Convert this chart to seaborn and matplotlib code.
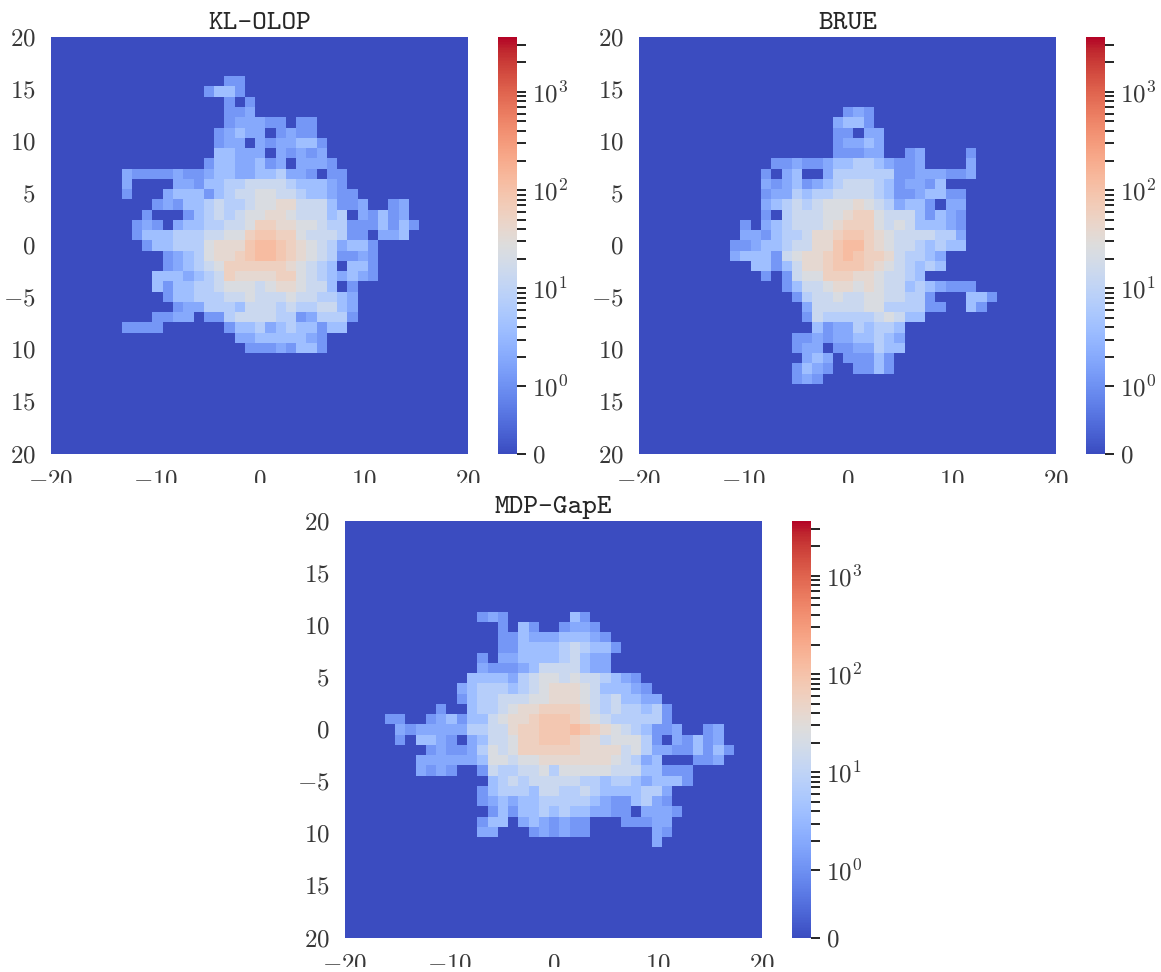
# plot.py

import numpy as np
import matplotlib
matplotlib.use("Agg")
import matplotlib.pyplot as plt
from matplotlib.colors import SymLogNorm
from matplotlib.transforms import Affine2D, Bbox
import seaborn as sns

WIDTH, HEIGHT = 1161, 972

TITLES = ["KL-OLOP", "BRUE", "MDP-GapE"]
X_TICK_LABELS = ["$-20$", "$-10$", "$0$", "$10$", "$20$"]
Y_TICK_LABELS = ["$20$", "$15$", "$10$", "$5$", "$0$", "$-5$", "$10$", "$15$", "$20$"]
CBAR_LABELS = ["$0$", "$10^{0}$", "$10^{1}$", "$10^{2}$", "$10^{3}$"]
CBAR_TICKS = [0, 1, 10, 100, 1000]
CBAR_MINOR = [2, 3, 4, 5, 6, 7, 8, 9,
              20, 30, 40, 50, 60, 70, 80, 90,
              200, 300, 400, 500, 600, 700, 800, 900,
              2000, 3000]
VMAX = 3630
N_BINS = 41

LEVEL_COUNTS = {".": 0, "1": 1.2, "2": 2, "3": 4, "4": 7.5, "5": 14,
                "6": 24, "7": 38, "8": 58, "9": 85, "a": 125}

# (row, first column, codes)
KL_OLOP = [
    (4, 17, "11"),
    (5, 15, "1331"),
    (6, 17, "1.1"),
    (7, 17, "112"),
    (8, 17, "122211.11"),
    (9, 16, "12322.1211"),
    (10, 16, "122.2122331"),
    (11, 16, "33222.21212"),
    (12, 15, "13322312.2221"),
    (13, 7, "2111121123322334221.11"),
    (14, 7, "2"), (14, 12, "22133445555433321"),
    (15, 7, "1"), (15, 11, "2333134556655433211"),
    (16, 10, "121334544566775553112"), (16, 33, "12"),
    (17, 9, "1"), (17, 13, "1345456677655534.21312"),
    (18, 8, "121.233445568877665441113131"),
    (19, 8, "13334445566899886555411.223"),
    (20, 9, "13344467779aa9876542331"),
    (21, 11, "123467789aa9876541121"),
    (22, 11, "12345688888876543.331"),
    (23, 10, "3332345877778865432321"),
    (24, 10, "313344566656776553.1"),
    (25, 11, "1334445565556554432"),
    (26, 12, "122444355545445532"),
    (27, 10, "1122.114555544124441"),
    (28, 7, "1111"), (28, 17, "133423433133"),
    (29, 18, "223333321"),
    (30, 19, "11121331"),
]

BRUE = [
    (7, 20, "121"),
    (8, 19, "2331"),
    (9, 19, "11.22"),
    (10, 19, "12232"),
    (11, 19, "11122"), (11, 26, "12"), (11, 32, "1"),
    (12, 13, "112112334432112"), (12, 32, "2"),
    (13, 12, "1.23..244444411222112"),
    (14, 12, "212312345554312213"),
    (15, 12, "12243445555431123311"),
    (16, 12, "23454566676542331.22"),
    (17, 12, "1.455566788655531321"),
    (18, 10, "1"), (18, 12, "23455567888656533321"),
    (19, 10, "2213445778998765555442"),
    (20, 9, "11233455779aa8765543433"),
    (21, 9, "23331567789a988754432"),
    (22, 11, "3313577899987654343"),
    (23, 12, "1"), (23, 14, "15668887765543"),
    (24, 14, "1355677676553432111"),
    (25, 15, "14556556655441"), (25, 32, "331"),
    (26, 16, "25555566444411"), (26, 32, "31"),
    (27, 16, "154444456533"),
    (28, 17, "312243443"),
    (29, 15, "11212233432"),
    (30, 15, "122.1122433"),
    (31, 16, "232"), (31, 20, "11131"),
    (32, 15, "1321"), (32, 21, "1131"),
    (33, 15, "121"),
]

MDP_GAPE = [
    (9, 13, "121"), (9, 22, "31"),
    (10, 15, "1"), (10, 17, "31"), (10, 21, "1221"),
    (11, 15, "11"), (11, 17, "322233321"),
    (12, 15, "11"), (12, 17, "3333454331"),
    (13, 13, "1"), (13, 15, "22333345322"),
    (14, 13, "2111235555322"),
    (15, 12, "33332456656554321"),
    (16, 11, "2344434567776533321"),
    (17, 11, "13445556677765453322"),
    (18, 9, "1"), (18, 12, "34456778888754544341"),
    (19, 4, "11"), (19, 8, "123133567789998765444441"),
    (20, 5, "21222224455788999a9876543112"), (20, 35, "12"),
    (21, 5, "1"), (21, 7, "3321.2355688999877566641"), (21, 32, "21312"),
    (22, 8, "121124656888888777756422113131"),
    (23, 7, "222222366566777777765423"), (23, 34, "112"),
    (24, 7, "2121"), (24, 13, "154455646666655533111"),
    (25, 14, "34545555544344323331"),
    (26, 13, "1344435544543333442"),
    (27, 13, "1232334444432113421"),
    (28, 14, "13133434332211.2221"),
    (29, 13, "133"), (29, 17, "2321211"), (29, 27, "11122"),
    (30, 13, "22"), (30, 18, "121211"), (30, 30, "21"),
    (31, 30, "2"),
]


def build_grid(cells):
    grid = np.zeros((N_BINS, N_BINS))
    for row, col, codes in cells:
        for i, code in enumerate(codes):
            grid[row, col + i] = LEVEL_COUNTS[code]
    return grid


def add_axes_px(fig, left, top, right, bottom):
    return fig.add_axes([left / WIDTH, 1 - bottom / HEIGHT,
                         (right - left) / WIDTH, (bottom - top) / HEIGHT])


def draw_panel(fig, cells, title, left, top, clip_y):
    ax = add_axes_px(fig, left, top, left + 417, top + 417)
    cax = add_axes_px(fig, left + 447, top, left + 466, top + 417)

    norm = SymLogNorm(linthresh=1, linscale=0.62, vmin=0, vmax=VMAX, base=10)
    sns.heatmap(build_grid(cells), ax=ax, cbar_ax=cax, cmap="coolwarm", norm=norm,
                square=False, xticklabels=False, yticklabels=False)

    # the grid is a bit larger than the frame, its outer edge is cut off
    x_lim = (0.11, 40.75)
    y_lim = (40.82, 0.18)
    ax.set_xlim(x_lim)
    ax.set_ylim(y_lim)
    ax.set_xticks(np.linspace(x_lim[0], x_lim[1], 5), X_TICK_LABELS, rotation=0)
    ax.set_yticks(np.linspace(y_lim[1], y_lim[0], 9), Y_TICK_LABELS, rotation=0, va="center")
    ax.tick_params(axis="x", length=0, pad=11, labelsize=18, labelcolor=".22")
    ax.tick_params(axis="y", length=0, pad=11, labelsize=18, labelcolor=".22")
    ax.set_title(title, family="cmtt10", fontsize=20.2, pad=6, color=".15")

    # the tick labels under the frame are cropped in the original
    clip = Bbox([[0, HEIGHT - clip_y], [WIDTH, HEIGHT]])
    for label in ax.get_xticklabels():
        label.set_clip_box(clip)
        label.set_clip_on(True)
    for label in ax.get_yticklabels():
        label.set_transform(label.get_transform() + Affine2D().translate(0, -2))

    cbar = ax.collections[0].colorbar
    cbar.set_ticks(CBAR_TICKS, labels=CBAR_LABELS)
    cbar.set_ticks(CBAR_MINOR, minor=True)
    cax.tick_params(which="both", length=6.5, width=1.2, color="black", pad=4,
                    labelsize=18, labelcolor=".22")


sns.set_theme(style="white")
plt.rcParams["font.family"] = "cmr10"
plt.rcParams["mathtext.fontset"] = "cm"

fig = plt.figure(figsize=(WIDTH / 100, HEIGHT / 100), dpi=100)
draw_panel(fig, KL_OLOP, TITLES[0], 51, 37, 483)
draw_panel(fig, BRUE, TITLES[1], 639, 37, 483)
draw_panel(fig, MDP_GAPE, TITLES[2], 345, 521, 967)
fig.savefig("out.png", dpi=100)
